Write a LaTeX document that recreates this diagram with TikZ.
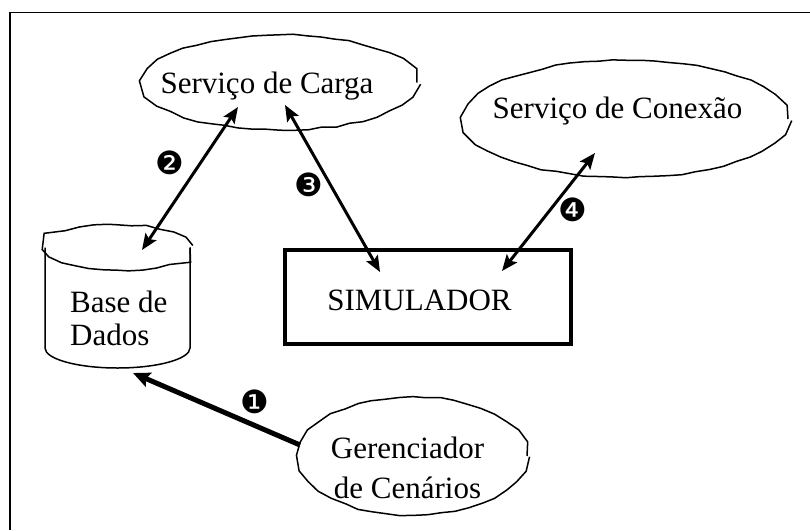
\documentclass[tikz,border=0pt]{standalone}
\usepackage{fontspec}
\setmainfont{Liberation Serif}
\newfontfamily\dingfont{DejaVu Sans}
\usetikzlibrary{arrows.meta,shapes.geometric,decorations.pathmorphing,calc}
\begin{document}
\begin{tikzpicture}[x=1pt,y=-1pt,
  wob/.style={decorate, decoration={random steps, segment length=14pt, amplitude=1pt}},
  cloud/.style={draw, ellipse, line width=1.5pt, inner sep=0pt, wob},
  txt/.style={font=\fontsize{31}{37}\selectfont, anchor=base, inner sep=0pt},
  num/.style={font=\dingfont\fontsize{32}{32}\selectfont, inner sep=0pt},
  link/.style={line width=3pt, {Stealth[length=16pt,width=13pt,inset=3pt]}-{Stealth[length=16pt,width=13pt,inset=3pt]}},
  heavy/.style={line width=5pt, -{Stealth[length=17pt,width=15pt,inset=3pt]}}]
\pgfmathsetseed{7}
\useasboundingbox[fill=white] (0,0) rectangle (810,530);
% frame
\draw[line width=1.3pt] (10,530) -- (10,12.7) -- (810,12.7);
% nodes
\node[cloud, minimum width=274pt, minimum height=95pt] (carga) at (280,82.5) {};
\node[cloud, minimum width=324pt, minimum height=117pt] (conex) at (626,119) {};
\node[cloud, minimum width=228pt, minimum height=118pt] (ger) at (413,456) {};
\node[draw, line width=4pt, minimum width=286pt, minimum height=94pt, inner sep=0pt] (sim) at (428,297) {};
\node[minimum width=145pt, minimum height=143pt, inner sep=0pt] (db) at (117.5,296.5) {};
% cylinder
\draw[line width=1.5pt] (45,247.5) -- (45,348) arc[start angle=180, end angle=0, x radius=72.5, y radius=20] -- (190,247.5);
\draw[line width=1.5pt, wob] (117.5,247.5) ellipse[x radius=72.5, y radius=22.5];
% texts
\node[txt] (tcarga) at (267,93) {Serviço de Carga};
\node[txt] (tconex) at (617.5,118) {Serviço de Conexão};
\node[txt] (tsim) at (419.5,310) {SIMULADOR};
\node[txt] (tger1) at (407.5,458) {Gerenciador};
\node[txt] (tger2) at (407.5,498) {de Cenários};
\node[txt, anchor=base west] (tdb1) at (70,312) {Base de};
\node[txt, anchor=base west] (tdb2) at (70,345) {Dados};
% arrow end points
\coordinate (g1) at ($(ger)+(-113,-11)$);
\coordinate (d1) at ($(db)+(15.5,76.5)$);
\coordinate (d2) at ($(db)+(24.5,-46.5)$);
\coordinate (c2) at ($(carga)+(-42,24.5)$);
\coordinate (c3) at ($(carga)+(5,22.5)$);
\coordinate (s3) at ($(sim)+(-48,-25)$);
\coordinate (s4) at ($(sim)+(74,-26)$);
\coordinate (k4) at ($(conex)+(-31,34)$);
% connectors
\draw[heavy] (g1) -- (d1);
\draw[link] (d2) -- (c2);
\draw[link] (c3) -- (s3);
\draw[link] (s4) -- (k4);
% labels
\node[num] (n1) at (255,402) {❶};
\node[num] (n2) at (170,163) {❷};
\node[num] (n3) at (309,185) {❸};
\node[num] (n4) at (573,210) {❹};
\end{tikzpicture}
\end{document}
